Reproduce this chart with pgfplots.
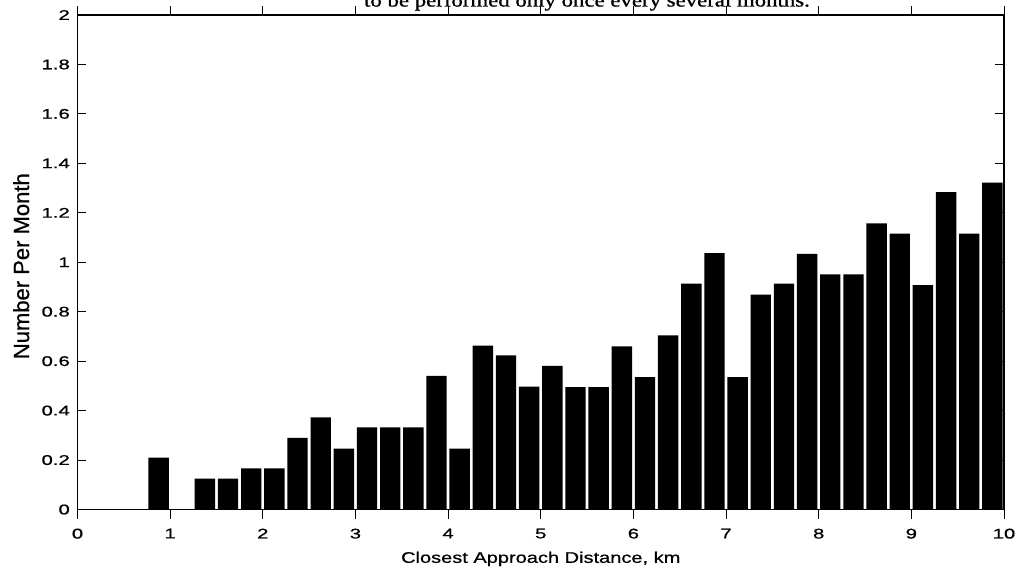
\documentclass[border=0pt]{standalone}
\usepackage{fontspec}
\setmainfont{Liberation Sans}[FakeBold=0.8]
\newfontfamily\tickfont{Liberation Sans}[FakeStretch=1.45, FakeBold=0.8]
\newfontfamily\xlabfont{Liberation Sans}[FakeStretch=1.3, FakeBold=0.8]
\newfontfamily\topfont{Liberation Serif}[FakeStretch=1.2, FakeBold=1]
\usepackage{pgfplots}
\pgfplotsset{compat=1.18}

% bin centre (km), number per month
\pgfplotstableread{
x y
0.125 0
0.375 0
0.625 0
0.875 0.210
1.125 0
1.375 0.125
1.625 0.125
1.875 0.166
2.125 0.166
2.375 0.290
2.625 0.373
2.875 0.246
3.125 0.332
3.375 0.332
3.625 0.332
3.875 0.540
4.125 0.246
4.375 0.663
4.625 0.623
4.875 0.497
5.125 0.581
5.375 0.495
5.625 0.495
5.875 0.660
6.125 0.535
6.375 0.704
6.625 0.914
6.875 1.037
7.125 0.535
7.375 0.869
7.625 0.914
7.875 1.034
8.125 0.951
8.375 0.951
8.625 1.157
8.875 1.116
9.125 0.907
9.375 1.284
9.625 1.116
9.875 1.322
}\approach

\begin{document}
\begin{tikzpicture}
\begin{axis}[
    scale only axis,
    width=926.5pt, height=494.5pt,
    xmin=0, xmax=10,
    ymin=0, ymax=2,
    xtick={0,1,...,10},
    ytick={0,0.2,0.4,0.6,0.8,1,1.2,1.4,1.6,1.8,2},
    /pgf/number format/assume math mode=true,
    /pgf/number format/fixed,
    axis line style={line width=1.3pt},
    major tick style={line width=1pt, black},
    major tick length=9pt,
    tick align=inside,
    xticklabel style={font=\tickfont\fontsize{14}{16}\selectfont,
        anchor=north, inner sep=0pt, yshift=-10pt},
    yticklabel style={font=\tickfont\fontsize{14}{16}\selectfont,
        anchor=east, inner sep=0pt, xshift=-7.5pt},
    xlabel={Closest Approach Distance, km},
    ylabel={Number Per Month},
    xlabel style={font=\xlabfont\fontsize{15.4}{17}\selectfont,
        at={(axis description cs:0.5,0)}, anchor=north, inner sep=0pt, yshift=-42pt},
    ylabel style={font=\fontsize{22}{24}\selectfont,
        at={(axis description cs:-0.0523,0.492)}, anchor=base, inner sep=0pt},
    ybar, bar width=0.22, bar shift=0pt,
]
\addplot[fill=black, draw=none] table[x=x, y=y] {\approach};
\end{axis}
% line of the page text above the figure, cut off by the scan
\node[anchor=base east, inner sep=0pt, font=\topfont\fontsize{19}{21}\selectfont]
    at (732.5pt,503pt) {to be performed only once every several months.};
\pgfresetboundingbox
\useasboundingbox (-77.5pt,-58.5pt) rectangle (937.5pt,509.5pt);
\end{tikzpicture}
\end{document}
